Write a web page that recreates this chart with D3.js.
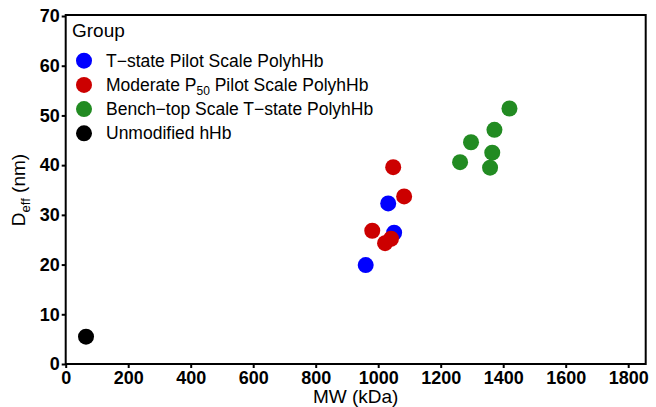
<!DOCTYPE html>
<html><head><meta charset="utf-8">
<script src="https://cdn.jsdelivr.net/npm/d3@7"></script>
<style>body{margin:0;background:#fff}svg{display:block}text{font-family:"Liberation Sans",Arial,sans-serif}</style>
</head><body>
<svg id="c" width="656" height="407"></svg>
<script>
const groups = ["T−state Pilot Scale PolyhHb","Moderate P50 Pilot Scale PolyhHb","Bench−top Scale T−state PolyhHb","Unmodified hHb"];
const colors = ["#0000ff","#cc0000","#228b22","#000000"];
const blueMW = [1032,1051,960];
const blueD = [32.3,26.4,19.9];
const redMW = [1048,1083,981,1022,1041];
const redD = [39.6,33.7,26.8,24.3,25.2];
const greenMW = [1420,1372,1297,1365,1262,1358];
const greenD = [51.4,47.1,44.6,42.5,40.6,39.5];
const blackMW = [65];
const blackD = [5.5];
const xTicks = [0,200,400,600,800,1000,1200,1400,1600,1800];
const yTicks = [0,10,20,30,40,50,60,70];

const series = [[blueMW,blueD],[redMW,redD],[greenMW,greenD],[blackMW,blackD]];
const svg = d3.select("#c");
const L=65.7,R=645.7,T=16,B=364;
const x = d3.scaleLinear().domain([0,1856]).range([L,R]);
const y = d3.scaleLinear().domain([0,70]).range([B,T]);

// frame
svg.append("rect").attr("x",L).attr("y",T-1).attr("width",R-L).attr("height",B-T+1)
  .attr("fill","none").attr("stroke","#000").attr("stroke-width",2);

const xa = svg.append("g").attr("transform",`translate(0,${B})`)
  .call(d3.axisBottom(x).tickValues(xTicks).tickSize(4).tickPadding(3).tickFormat(d3.format("d")));
const ya = svg.append("g").attr("transform",`translate(${L},0)`)
  .call(d3.axisLeft(y).tickValues(yTicks).tickSize(4).tickPadding(2).tickFormat(d3.format("d")));
[xa,ya].forEach(a=>{
  a.select(".domain").remove();
  a.selectAll(".tick line").attr("stroke","#000").attr("stroke-width",2);
  a.selectAll(".tick text").attr("fill","#000").style("font-size","18px").style("font-weight","bold");
});

// points
series.forEach((s,i)=>{
  svg.append("g").selectAll("circle").data(s[0].map((v,j)=>[v,s[1][j]])).join("circle")
    .attr("cx",d=>x(d[0])).attr("cy",d=>y(d[1])).attr("r",8).attr("fill",colors[i]);
});

// axis titles
svg.append("text").attr("x",(L+R)/2).attr("y",403).attr("text-anchor","middle")
  .style("font-size","19px").text("MW (kDa)");
const yt = svg.append("text").attr("transform",`translate(25,${(T+B)/2}) rotate(-90)`)
  .attr("text-anchor","middle").style("font-size","19px");
yt.append("tspan").text("D");
yt.append("tspan").attr("dy",5).style("font-size","13px").text("eff");
yt.append("tspan").attr("dy",-5).text(" (nm)");

// legend
const lg = svg.append("g");
lg.append("text").attr("x",72).attr("y",36.5).style("font-size","19px").text("Group");
groups.forEach((g,i)=>{
  const cy = 60.7 + i*24.2;
  lg.append("circle").attr("cx",84).attr("cy",cy).attr("r",8).attr("fill",colors[i]);
  const t = lg.append("text").attr("x",106).attr("y",cy+6).style("font-size","17.5px");
  if (g.includes("P50")) {
    const parts = g.split("P50");
    t.append("tspan").text(parts[0]+"P");
    t.append("tspan").attr("dy",4).style("font-size","12px").text("50");
    t.append("tspan").attr("dy",-4).text(parts[1]);
  } else t.text(g);
});
</script>
</body></html>
